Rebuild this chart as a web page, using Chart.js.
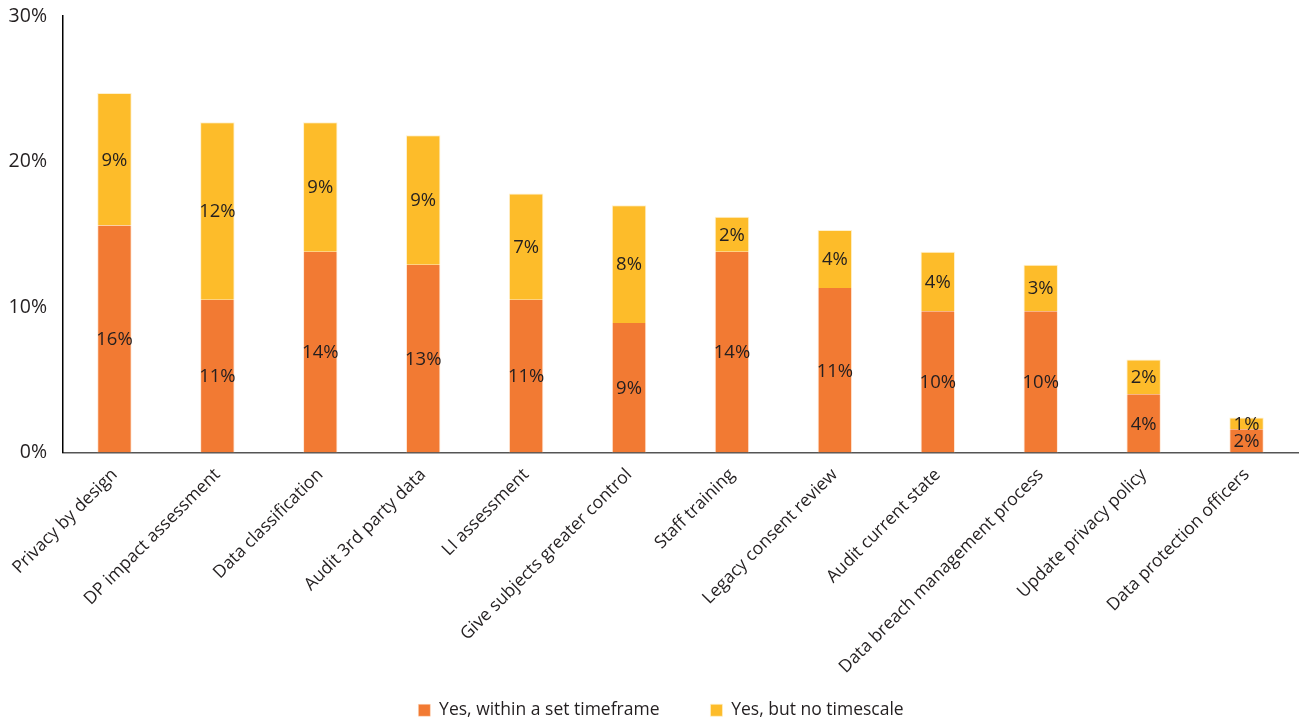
<!DOCTYPE html>
<html>
<head>
<meta charset="utf-8">
<script src="https://cdn.jsdelivr.net/npm/chart.js@4/dist/chart.umd.min.js"></script>
<style>
html,body{margin:0;padding:0;background:#fff;}
#wrap{width:1304px;height:720px;position:relative;}
</style>
</head>
<body>
<div id="wrap"><canvas id="c" width="1304" height="720"></canvas></div>
<script>
const categories = ["Privacy by design","DP impact assessment","Data classification","Audit 3rd party data","LI assessment","Give subjects greater control","Staff training","Legacy consent review","Audit current state","Data breach management process","Update privacy policy","Data protection officers"];
const withinTimeframe = [15.6, 10.5, 13.8, 12.9, 10.5, 8.9, 13.8, 11.3, 9.7, 9.7, 4.0, 1.6];
const noTimescale = [9.1, 12.2, 8.9, 8.9, 7.3, 8.1, 2.4, 4.0, 4.1, 3.2, 2.4, 0.8];
const seriesNames = ["Yes, within a set timeframe", "Yes, but no timescale"];
const yTicks = [0, 10, 20, 30];

const FONT = "'Open Sans', sans-serif";

const labelPlugin = {
  id: 'segLabels',
  afterDatasetsDraw(chart) {
    const ctx = chart.ctx;
    ctx.save();
    ctx.font = "18.5px " + FONT;
    ctx.fillStyle = '#231f20';
    ctx.textAlign = 'center';
    ctx.textBaseline = 'middle';
    chart.data.datasets.forEach((ds, i) => {
      const meta = chart.getDatasetMeta(i);
      meta.data.forEach((el, j) => {
        const v = ds.data[j];
        const cy = (el.y + el.base) / 2;
        ctx.fillText(Math.round(v) + '%', el.x, cy + 1);
      });
    });
    ctx.restore();
  }
};

const layoutFix = {
  id: 'layoutFix',
  afterLayout(chart) {
    // let rotated category labels use the space down to the canvas edge
    chart.scales.x.bottom = chart.height;
    const lg = chart.legend;
    if (lg) {
      const dy = 9, dx = 12;
      lg.top += dy; lg.bottom += dy;
      lg.left += dx; lg.right += dx;
    }
  }
};

new Chart(document.getElementById('c'), {
  type: 'bar',
  data: {
    labels: categories,
    datasets: [
      { label: seriesNames[0], data: withinTimeframe, backgroundColor: '#F27A33', borderColor: 'rgba(255,230,210,0.9)', borderWidth: {left:1,right:1,top:0,bottom:0}, barPercentage: 0.335, categoryPercentage: 1 },
      { label: seriesNames[1], data: noTimescale, backgroundColor: '#FDBC2A', borderColor: 'rgba(255,240,200,0.9)', borderWidth: {left:1,right:1,top:1,bottom:0}, barPercentage: 0.335, categoryPercentage: 1 }
    ]
  },
  options: {
    responsive: false,
    animation: false,
    layout: { padding: { top: 16, right: 6, left: 0, bottom: 0 } },
    plugins: {
      legend: {
        position: 'bottom',
        labels: {
          boxWidth: 12, boxHeight: 12, padding: 51,
          color: '#231f20',
          font: { family: FONT, size: 17.5 }
        }
      },
      tooltip: { enabled: false }
    },
    scales: {
      x: {
        stacked: true,
        grid: { display: false },
        border: { display: true, color: '#555', width: 1.5 },
        ticks: {
          maxRotation: 45, minRotation: 45, autoSkip: false,
          color: '#231f20', padding: 4,
          font: { family: FONT, size: 17.5 }
        },
        afterFit(scale) { scale.height = 189; }
      },
      y: {
        stacked: true,
        min: 0, max: 30,
        afterBuildTicks(scale) { scale.ticks = yTicks.map(v => ({ value: v })); },
        grid: { display: false },
        border: { display: true, color: '#000', width: 1.5 },
        ticks: {
          color: '#231f20', padding: 8,
          font: { family: FONT, size: 19.5 },
          callback: v => v + '%'
        },
        afterFit(scale) { scale.width = 63; scale.paddingTop = 0; scale.paddingBottom = 0; }
      }
    }
  },
  plugins: [labelPlugin, layoutFix]
});
</script>
</body>
</html>
